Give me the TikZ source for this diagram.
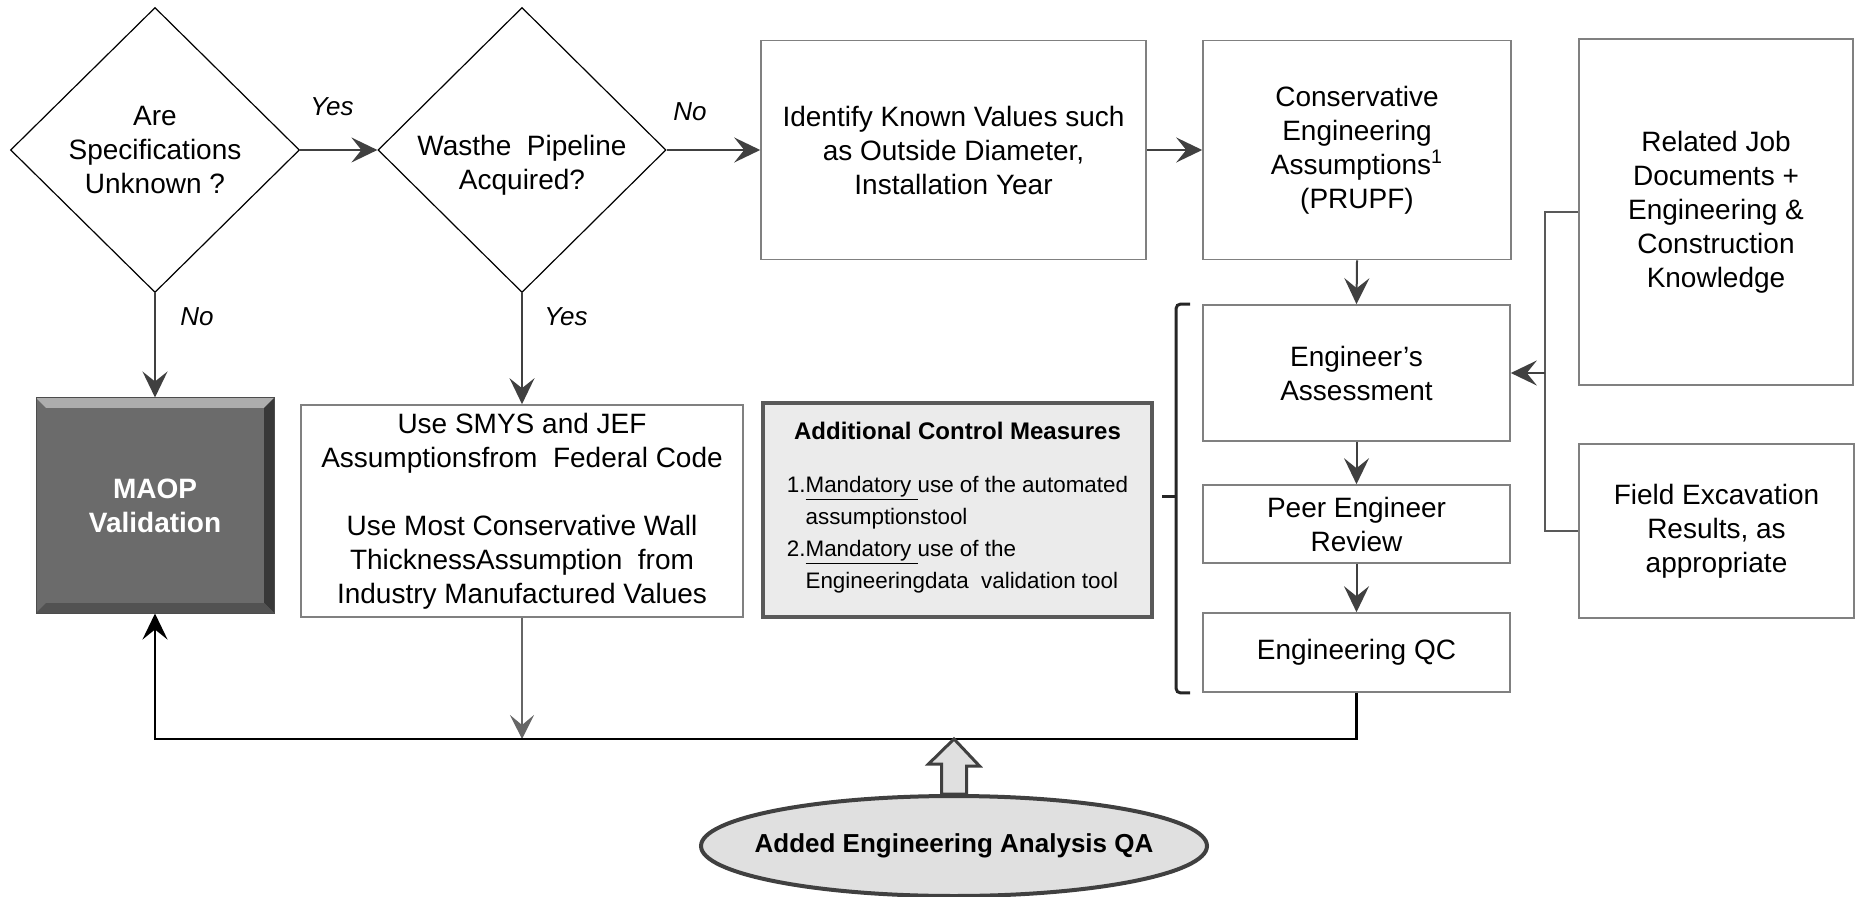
\documentclass[tikz,border=0pt]{standalone}
\usepackage{fontspec}
\setmainfont{Liberation Sans}
\usetikzlibrary{arrows.meta,shapes.geometric}

\begin{document}
\begin{tikzpicture}[x=0.5pt, y=-0.5pt, font=\fontsize{14}{17}\selectfont,
  decision/.style={diamond, draw=black, line width=0.6pt, inner sep=0pt, align=center},
  stepbox/.style={rectangle, draw=black!50!white, line width=0.8pt, inner sep=2pt, align=center},
  ctrlbox/.style={rectangle, draw=black!65!white, line width=2pt, fill=black!8!white, inner sep=2pt, align=center},
  maopbox/.style={rectangle, fill=black!58!white, draw=black!70!white, line width=0.5pt, text=white, align=center,
    font=\fontsize{14}{17}\selectfont\bfseries,
    path picture={
      \fill[black!32!white] (path picture bounding box.north west) -- (path picture bounding box.north east)
        -- ([xshift=-5pt,yshift=-5pt]path picture bounding box.north east) -- ([xshift=5pt,yshift=-5pt]path picture bounding box.north west) -- cycle;
      \fill[black!78!white] (path picture bounding box.north east) -- (path picture bounding box.south east)
        -- ([xshift=-5pt,yshift=5pt]path picture bounding box.south east) -- ([xshift=-5pt,yshift=-5pt]path picture bounding box.north east) -- cycle;
      \fill[black!68!white] (path picture bounding box.south west) -- (path picture bounding box.south east)
        -- ([xshift=-5pt,yshift=5pt]path picture bounding box.south east) -- ([xshift=5pt,yshift=5pt]path picture bounding box.south west) -- cycle;
    }},
  qaoval/.style={ellipse, draw=black!75!white, line width=2pt, fill=black!12!white, inner sep=0pt},
  yesno/.style={font=\fontsize{13}{15}\selectfont\itshape},
  flow/.style={draw=black!75!white, line width=1pt, -{Stealth[length=13pt,width=12.5pt,inset=5pt]}},
  thinflow/.style={draw=black!60!white, line width=0.6pt, -{Stealth[length=12pt,width=12pt,inset=5pt]}},
  feed/.style={draw=black!65!white, line width=0.9pt},
  ret/.style={draw=black, line width=1.3pt, -{Stealth[length=13pt,width=12.5pt,inset=5pt]}},
  brace/.style={draw=black!85!white, line width=1.5pt, rounded corners=2pt},
  qaarrow/.style={draw=black!75!white, line width=1.5pt, fill=black!12!white, line join=miter}]
\useasboundingbox (0,0) rectangle (1856,897);

\node[decision, minimum width=144.5pt, minimum height=142.5pt] (spec) at (155,150) {Are\\Specifications\\Unknown ?};
\node[decision, minimum width=144pt, minimum height=142.5pt] (acq) at (522,150) {};
\node[align=center] (acqtext) at ([yshift=-7.5pt]acq.center) {Wasthe\ \ Pipeline\\Acquired?};
\node[stepbox, minimum width=192.5pt, minimum height=109.5pt] (ident) at (953.5,150) {Identify Known Values such\\as Outside Diameter,\\Installation Year};
\node[stepbox, minimum width=154pt, minimum height=109.5pt] (cons) at (1357,150) {Conservative\\Engineering\\Assumptions\textsuperscript{1}\\(PRUPF)};
\node[stepbox, minimum width=137pt, minimum height=173pt] (rel) at (1716,212) {Related Job\\Documents +\\Engineering \&\\Construction\\Knowledge};
\node[stepbox, minimum width=153.5pt, minimum height=68pt] (eng) at (1356.5,373) {Engineer's\\Assessment};
\node[stepbox, minimum width=153.5pt, minimum height=39pt] (peer) at (1356.5,524) {Peer Engineer\\Review};
\node[stepbox, minimum width=153.5pt, minimum height=39.5pt] (qc) at (1356.5,652.5) {Engineering QC};
\node[stepbox, minimum width=137.5pt, minimum height=87pt] (fld) at (1716.5,531) {Field Excavation\\Results, as\\appropriate};
\node[maopbox, minimum width=119pt, minimum height=107.5pt] (maop) at (155,505.5) {MAOP\\Validation};
\node[stepbox, minimum width=221pt, minimum height=106pt] (smys) at (522,511) {Use SMYS and JEF\\Assumptionsfrom\ \ Federal Code\\[17pt]Use Most Conservative Wall\\ThicknessAssumption\ \ from\\Industry Manufactured Values};
\node[ctrlbox, minimum width=194.5pt, minimum height=107pt] (acm) at (957.5,510) {\textbf{\fontsize{12}{14}\selectfont Additional Control Measures}\\[14pt]{\fontsize{11.2}{16}\selectfont\begin{tabular}{@{}l@{}l@{}}1.&\underline{Mandatory\ }use of the automated\\&assumptionstool\\2.&\underline{Mandatory\ }use of the\\&Engineeringdata\ \ validation tool\end{tabular}}};
\node[qaoval, minimum width=253pt, minimum height=50pt] (qa) at (954,846) {};
\node[font=\fontsize{13}{15}\selectfont\bfseries] (qatext) at (qa.center) {Added Engineering Analysis QA};

\node[yesno] (yes1) at (332,107) {Yes};
\node[yesno] (no1) at (690,112) {No};
\node[yesno] (no2) at (197,317) {No};
\node[yesno] (yes2) at (566,317) {Yes};

\coordinate (jn) at (1545,373);
\coordinate (bus) at (522,739);

\draw[flow] (spec.east) -- (acq.west);
\draw[flow] (acq.east) -- (ident.west);
\draw[flow] (ident.east) -- (cons.west);
\draw[flow] (spec.south) -- (maop.north);
\draw[flow] (acq.south) -- (smys.north);
\draw[flow] (cons.south) -- (eng.north);
\draw[flow] (eng.south) -- (peer.north);
\draw[flow] (peer.south) -- (qc.north);
\draw[feed] (rel.west) -| (jn);
\draw[feed] (fld.west) -| (jn);
\draw[flow] (jn) -- (eng.east);
\draw[thinflow] (smys.south) -- (bus);
\draw[ret] (qc.south) |- (bus) -| (maop.south);
\draw[brace] ([xshift=-6pt]eng.north west) -- ++(-14,0) |- ([xshift=-6pt]qc.south west);
\draw[brace] ([xshift=-6pt]eng.north west) ++(-14,192) -- ++(-14,0);
\draw[qaarrow] ([xshift=-6.25pt]qa.north) -- ++(0,-30) -- ++(-13,0) -- (qa.north |- bus) -- ++(25.5,27) -- ++(-13,0) -- ([xshift=6.25pt]qa.north) -- cycle;
\end{tikzpicture}
\end{document}
